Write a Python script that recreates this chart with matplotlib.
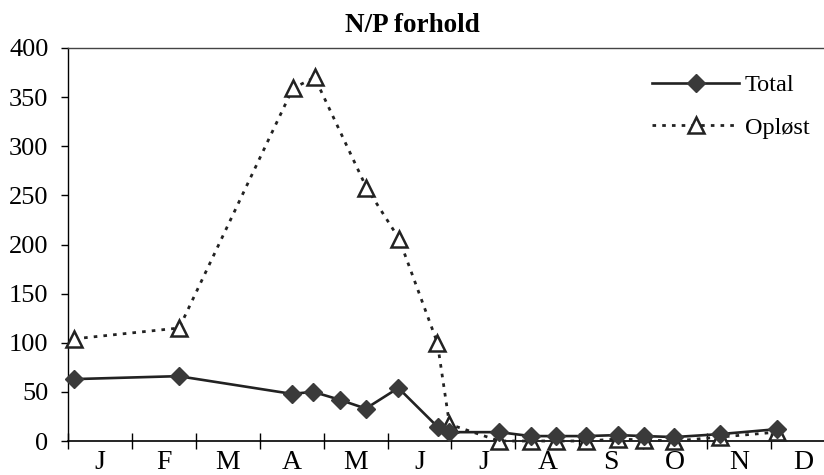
import matplotlib
matplotlib.use("Agg")
import matplotlib.pyplot as plt
from matplotlib.lines import Line2D

# Data (x in months from 1 Jan)
total_x = [0.1, 1.73, 3.5, 3.84, 4.25, 4.66, 5.17, 5.79, 5.97, 6.75, 7.24, 7.64, 8.1, 8.6, 9.02, 9.49, 10.2, 11.09]
total_y = [63, 66, 48, 50, 42, 33, 54, 14, 9, 9, 5, 5, 5, 6, 5, 4, 7, 12]
oplost_x = [0.1, 1.74, 3.52, 3.86, 4.67, 5.18, 5.78, 5.97, 6.75, 7.24, 7.64, 8.1, 8.6, 9.02, 9.49, 10.2, 11.09]
oplost_y = [104, 115, 359, 370, 258, 206, 100, 17, 0, 0, 0, 0, 2, 1, 0, 4, 9]
months = ["J", "F", "M", "A", "M", "J", "J", "A", "S", "O", "N", "D"]
yticks = [0, 50, 100, 150, 200, 250, 300, 350, 400]

serif = ["Liberation Serif", "DejaVu Serif"]
plt.rcParams["font.family"] = serif

fig = plt.figure(figsize=(8.24, 4.75), dpi=100)
left = 68 / 824
ax = fig.add_axes([left, 34 / 475, 1 - left, (441 - 48) / 475])
ax.set_xlim(0, (824 - 68) / 63.9)
ax.set_ylim(0, 400)

op_style = dict(color="#222222", lw=2.0, linestyle=(0, (1.3, 2.2)), marker="^",
                markersize=12, markerfacecolor="white", markeredgecolor="#222222",
                markeredgewidth=1.8)
tot_style = dict(color="#222222", lw=1.9, linestyle="-", marker="D", markersize=9,
                 markerfacecolor="#3a3a3a", markeredgecolor="#3a3a3a")

ax.plot(oplost_x, oplost_y, clip_on=False, zorder=3, label="Opløst", **op_style)
ax.plot(total_x, total_y, clip_on=False, zorder=4, label="Total", **tot_style)

ax.spines["right"].set_visible(False)
ax.spines["top"].set_color("#444444")
ax.spines["top"].set_linewidth(1.0)
ax.spines["left"].set_linewidth(1.0)
ax.spines["bottom"].set_linewidth(1.2)

ax.set_yticks(yticks)
ax.set_yticklabels([str(v) for v in yticks])
ax.tick_params(axis="y", direction="out", length=5, width=1, pad=9, labelsize=19)

ax.set_xticks(range(0, 12))
ax.set_xticklabels([])
ax.tick_params(axis="x", which="major", direction="inout", length=12, width=1)
ax.set_xticks([i + 0.5 for i in range(12)], minor=True)
ax.set_xticklabels(months, minor=True)
ax.tick_params(axis="x", which="minor", length=0, pad=6.5, labelsize=20)

fig.text(0.5, 0.972, "N/P forhold", ha="center", va="top", fontsize=19.5,
         fontweight="bold", family=serif)

h_total = Line2D([], [], **tot_style)
h_op = Line2D([], [], **op_style)
leg = fig.legend([h_total, h_op], ["Total", "Opløst"], loc="upper right",
                 bbox_to_anchor=(1.009, 0.89), frameon=False, fontsize=17.5,
                 handlelength=3.55, handletextpad=0.25, labelspacing=0.85)

fig.savefig("out.png", dpi=100)
